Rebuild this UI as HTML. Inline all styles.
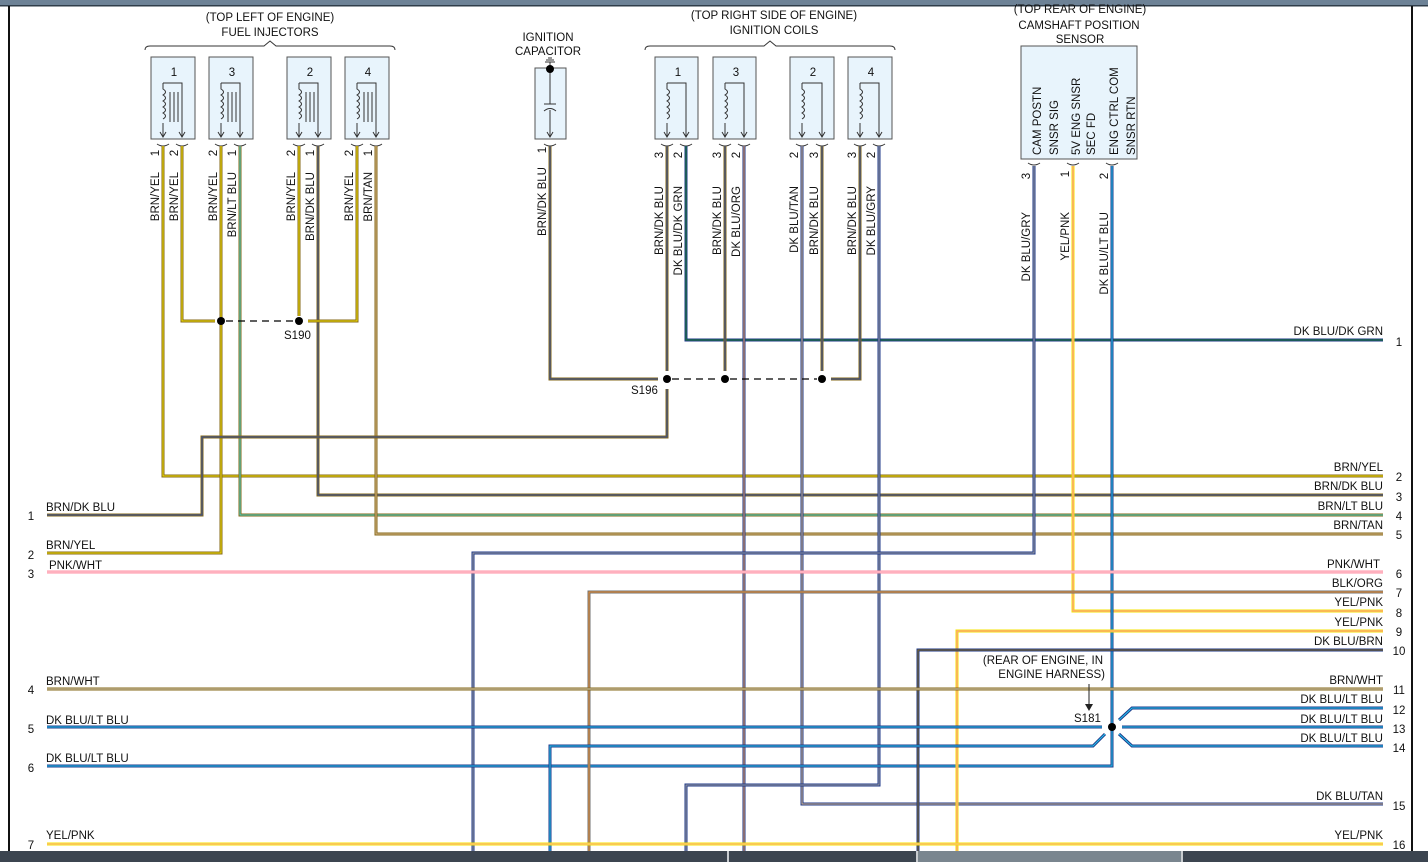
<!DOCTYPE html>
<html><head><meta charset="utf-8"><style>
html,body{margin:0;padding:0;background:#fff;}
svg{display:block;font-family:"Liberation Sans",sans-serif;}
.w{fill:none;stroke-width:3;stroke-linejoin:miter}
.s{fill:none;stroke-width:1}
text{font-size:11.5px;fill:#111}
.bx{fill:#e8f4fc;stroke:#555;stroke-width:1}
.sym{fill:none;stroke:#333;stroke-width:1}
</style></head><body>
<svg width="1428" height="862" viewBox="0 0 1428 862" xmlns="http://www.w3.org/2000/svg">
<rect x="0" y="0" width="1428" height="6" fill="#6d8296"/>
<rect x="0" y="5" width="1428" height="1.5" fill="#2f3d4a"/>
<rect x="8" y="6" width="2" height="846" fill="#111"/>
<rect x="1411" y="6" width="2" height="846" fill="#111"/>

<!-- headings -->
<g text-anchor="middle">
<text x="270" y="21">(TOP LEFT OF ENGINE)</text>
<text x="270" y="36">FUEL INJECTORS</text>
<text x="548" y="41">IGNITION</text>
<text x="548" y="55">CAPACITOR</text>
<text x="774" y="19">(TOP RIGHT SIDE OF ENGINE)</text>
<text x="774" y="34">IGNITION COILS</text>
<text x="1080" y="13">(TOP REAR OF ENGINE)</text>
<text x="1079" y="29">CAMSHAFT POSITION</text>
<text x="1080" y="43">SENSOR</text>
</g>
<path class="sym" d="M145,50 Q145,46 150,46 L264,46 L270,41 L276,46 L390,46 Q395,46 395,50"/>
<path class="sym" d="M645,50 Q645,46 650,46 L764,46 L770,41 L776,46 L890,46 Q895,46 895,50"/>

<!-- injector boxes -->
<g>
<rect class="bx" x="151" y="57" width="44" height="82"/>
<rect class="bx" x="209" y="57" width="44" height="82"/>
<rect class="bx" x="287" y="57" width="44" height="82"/>
<rect class="bx" x="345" y="57" width="44" height="82"/>
<rect class="bx" x="535" y="68" width="31" height="71"/>
<rect class="bx" x="655" y="57" width="43" height="82"/>
<rect class="bx" x="713" y="57" width="43" height="82"/>
<rect class="bx" x="790" y="57" width="44" height="82"/>
<rect class="bx" x="848" y="57" width="44" height="82"/>
<rect class="bx" x="1021" y="46" width="116" height="113"/>
</g>
<g text-anchor="middle">
<text x="174" y="76">1</text><text x="232" y="76">3</text><text x="310" y="76">2</text><text x="368" y="76">4</text>
<text x="678" y="76">1</text><text x="736" y="76">3</text><text x="813" y="76">2</text><text x="871" y="76">4</text>
</g>
<!-- injector symbols -->
<g class="sym">
<path d="M163,136 L163,123 M163,83 L182,83 L182,136 M163,83 L163,89 q5,3 0,6 q5,3 0,6 q5,3 0,6 q5,3 0,6 q5,3 0,6 M170,92 L170,122 M174,92 L174,122 M178,92 L178,122 M160,132 L163,137 L166,132 M179,132 L182,137 L185,132"/>
<path d="M221,136 L221,123 M221,83 L240,83 L240,136 M221,83 L221,89 q5,3 0,6 q5,3 0,6 q5,3 0,6 q5,3 0,6 q5,3 0,6 M228,92 L228,122 M232,92 L232,122 M236,92 L236,122 M218,132 L221,137 L224,132 M237,132 L240,137 L243,132"/>
<path d="M299,136 L299,123 M299,83 L318,83 L318,136 M299,83 L299,89 q5,3 0,6 q5,3 0,6 q5,3 0,6 q5,3 0,6 q5,3 0,6 M306,92 L306,122 M310,92 L310,122 M314,92 L314,122 M296,132 L299,137 L302,132 M315,132 L318,137 L321,132"/>
<path d="M357,136 L357,123 M357,83 L376,83 L376,136 M357,83 L357,89 q5,3 0,6 q5,3 0,6 q5,3 0,6 q5,3 0,6 q5,3 0,6 M364,92 L364,122 M368,92 L368,122 M372,92 L372,122 M354,132 L357,137 L360,132 M373,132 L376,137 L379,132"/>
<path d="M667,136 L667,123 M667,83 L686,83 L686,136 M667,83 L667,89 q5,3 0,6 q5,3 0,6 q5,3 0,6 q5,3 0,6 q5,3 0,6 M664,132 L667,137 L670,132 M683,132 L686,137 L689,132"/>
<path d="M725,136 L725,123 M725,83 L744,83 L744,136 M725,83 L725,89 q5,3 0,6 q5,3 0,6 q5,3 0,6 q5,3 0,6 q5,3 0,6 M722,132 L725,137 L728,132 M741,132 L744,137 L747,132"/>
<path d="M802,136 L802,123 M802,83 L822,83 L822,136 M802,83 L802,89 q5,3 0,6 q5,3 0,6 q5,3 0,6 q5,3 0,6 q5,3 0,6 M799,132 L802,137 L805,132 M819,132 L822,137 L825,132"/>
<path d="M860,136 L860,123 M860,83 L879,83 L879,136 M860,83 L860,89 q5,3 0,6 q5,3 0,6 q5,3 0,6 q5,3 0,6 q5,3 0,6 M857,132 L860,137 L863,132 M876,132 L879,137 L882,132"/>
<!-- capacitor -->
<path d="M550,62 L550,104 M550,110 L550,137 M544,104 L556,104 M544,111 q6,-5 12,0 M547,132 L550,137 L553,132 M545,62 L555,62 M546,60 L554,60 M548,58 L552,58"/>
<!-- pin cups -->
<path d="M157,144 q6,4 12,0 M176,144 q6,4 12,0 M215,144 q6,4 12,0 M234,144 q6,4 12,0 M293,144 q6,4 12,0 M312,144 q6,4 12,0 M351,144 q6,4 12,0 M370,144 q6,4 12,0 M544,144 q6,4 12,0 M661,144 q6,4 12,0 M680,144 q6,4 12,0 M719,144 q6,4 12,0 M738,144 q6,4 12,0 M796,144 q6,4 12,0 M816,144 q6,4 12,0 M854,144 q6,4 12,0 M873,144 q6,4 12,0 M1028,163 q6,4 12,0 M1067,163 q6,4 12,0 M1106,163 q6,4 12,0"/>
</g>
<circle cx="550" cy="69" r="4" fill="#000"/>

<!-- wires -->
<g>
<polyline class="w" stroke="#85681a" points="163,146 163,476 1383,476"/><polyline class="s" stroke="#f5e300" points="163,146 163,476 1383,476"/>
<polyline class="w" stroke="#85681a" points="182,146 182,321 215,321"/><polyline class="s" stroke="#f5e300" points="182,146 182,321 215,321"/>
<polyline class="w" stroke="#85681a" points="221,146 221,553 47,553"/><polyline class="s" stroke="#f5e300" points="221,146 221,553 47,553"/>
<polyline class="w" stroke="#85681a" points="240,146 240,515 1383,515"/><polyline class="s" stroke="#3fd8d0" points="240,146 240,515 1383,515"/>
<polyline class="w" stroke="#85681a" points="299,146 299,316"/><polyline class="s" stroke="#f5e300" points="299,146 299,316"/>
<polyline class="w" stroke="#85681a" points="318,146 318,495 1383,495"/><polyline class="s" stroke="#2a4aa0" points="318,146 318,495 1383,495"/>
<polyline class="w" stroke="#85681a" points="357,146 357,321 308,321"/><polyline class="s" stroke="#f5e300" points="357,146 357,321 308,321"/>
<polyline class="w" stroke="#85681a" points="376,146 376,534 1383,534"/><polyline class="s" stroke="#d8b88a" points="376,146 376,534 1383,534"/>
<polyline class="w" stroke="#85681a" points="550,146 550,379 658,379"/><polyline class="s" stroke="#2a4aa0" points="550,146 550,379 658,379"/>
<polyline class="w" stroke="#85681a" points="667,146 667,371"/><polyline class="s" stroke="#2a4aa0" points="667,146 667,371"/>
<polyline class="w" stroke="#85681a" points="667,389 667,437 202,437 202,515 47,515"/><polyline class="s" stroke="#2a4aa0" points="667,389 667,437 202,437 202,515 47,515"/>
<polyline class="w" stroke="#1f3a8a" points="686,146 686,340 1383,340"/><polyline class="s" stroke="#1a7a2a" points="686,146 686,340 1383,340"/>
<polyline class="w" stroke="#85681a" points="725,146 725,371"/><polyline class="s" stroke="#2a4aa0" points="725,146 725,371"/>
<polyline class="w" stroke="#1f3a8a" points="744,146 744,851"/><polyline class="s" stroke="#f0a060" points="744,146 744,851"/>
<polyline class="w" stroke="#1f3a8a" points="802,146 802,804 1383,804"/><polyline class="s" stroke="#d8b88a" points="802,146 802,804 1383,804"/>
<polyline class="w" stroke="#85681a" points="822,146 822,371"/><polyline class="s" stroke="#2a4aa0" points="822,146 822,371"/>
<polyline class="w" stroke="#85681a" points="860,146 860,379 831,379"/><polyline class="s" stroke="#2a4aa0" points="860,146 860,379 831,379"/>
<polyline class="w" stroke="#1f3a8a" points="879,146 879,785 686,785 686,851"/><polyline class="s" stroke="#a0a0a0" points="879,146 879,785 686,785 686,851"/>
<polyline class="w" stroke="#1f3a8a" points="1034,166 1034,553 473,553 473,851"/><polyline class="s" stroke="#a0a0a0" points="1034,166 1034,553 473,553 473,851"/>
<polyline class="w" stroke="#f5e300" points="1073,166 1073,611 1383,611"/><polyline class="s" stroke="#ff8fa3" points="1073,166 1073,611 1383,611"/>
<polyline class="w" stroke="#1f3a8a" points="1112,166 1112,766 47,766"/><polyline class="s" stroke="#22c8f0" points="1112,166 1112,766 47,766"/>
<polyline class="w" stroke="#ff8fa3" points="47,572 1383,572"/><polyline class="s" stroke="#ffd0d8" points="47,572 1383,572"/>
<polyline class="w" stroke="#707070" points="589,851 589,592 1383,592"/><polyline class="s" stroke="#f09030" points="589,851 589,592 1383,592"/>
<polyline class="w" stroke="#f5e300" points="957,851 957,631 1383,631"/><polyline class="s" stroke="#ff8fa3" points="957,851 957,631 1383,631"/>
<polyline class="w" stroke="#1f3a8a" points="918,851 918,650 1383,650"/><polyline class="s" stroke="#85681a" points="918,851 918,650 1383,650"/>
<polyline class="w" stroke="#85681a" points="47,689 1383,689"/><polyline class="s" stroke="#d8d0c0" points="47,689 1383,689"/>
<polyline class="w" stroke="#1f3a8a" points="47,727 1102,727"/><polyline class="s" stroke="#22c8f0" points="47,727 1102,727"/>
<polyline class="w" stroke="#1f3a8a" points="1122,727 1383,727"/><polyline class="s" stroke="#22c8f0" points="1122,727 1383,727"/>
<polyline class="w" stroke="#1f3a8a" points="1119,720 1132,708 1383,708"/><polyline class="s" stroke="#22c8f0" points="1119,720 1132,708 1383,708"/>
<polyline class="w" stroke="#1f3a8a" points="1119,734 1132,746 1383,746"/><polyline class="s" stroke="#22c8f0" points="1119,734 1132,746 1383,746"/>
<polyline class="w" stroke="#1f3a8a" points="1105,734 1093,746 550,746 550,851"/><polyline class="s" stroke="#22c8f0" points="1105,734 1093,746 550,746 550,851"/>
<polyline class="w" stroke="#f5e300" points="47,844 1383,844"/><polyline class="s" stroke="#ffb0a0" points="47,844 1383,844"/>
</g>
<!-- splices -->
<path d="M226,321 L294,321 M672,379 L720,379 M730,379 L817,379" stroke="#000" stroke-width="1.2" stroke-dasharray="7,5" fill="none"/>
<g fill="#000">
<circle cx="221" cy="321" r="4"/><circle cx="299" cy="321" r="4"/>
<circle cx="667" cy="379" r="4"/><circle cx="725" cy="379" r="4"/><circle cx="822" cy="379" r="4"/>
<circle cx="1112" cy="727" r="4"/>
</g>
<text x="284" y="339">S190</text>
<text x="631" y="394">S196</text>
<text x="1074" y="722">S181</text>
<text x="1103" y="664" text-anchor="end">(REAR OF ENGINE, IN</text>
<text x="1105" y="678" text-anchor="end">ENGINE HARNESS)</text>
<path d="M1089,684 L1089,705" stroke="#222" stroke-width="1"/>
<path d="M1085,704 L1093,704 L1089,711 Z" fill="#222"/>

<!-- vertical labels -->
<g text-anchor="end">
<text transform="translate(159,172) rotate(-90)">BRN/YEL</text>
<text transform="translate(178,172) rotate(-90)">BRN/YEL</text>
<text transform="translate(217,172) rotate(-90)">BRN/YEL</text>
<text transform="translate(236,172) rotate(-90)">BRN/LT BLU</text>
<text transform="translate(295,172) rotate(-90)">BRN/YEL</text>
<text transform="translate(314,172) rotate(-90)">BRN/DK BLU</text>
<text transform="translate(353,172) rotate(-90)">BRN/YEL</text>
<text transform="translate(372,172) rotate(-90)">BRN/TAN</text>
<text transform="translate(546,167) rotate(-90)">BRN/DK BLU</text>
<text transform="translate(663,186) rotate(-90)">BRN/DK BLU</text>
<text transform="translate(682,186) rotate(-90)">DK BLU/DK GRN</text>
<text transform="translate(721,186) rotate(-90)">BRN/DK BLU</text>
<text transform="translate(740,186) rotate(-90)">DK BLU/ORG</text>
<text transform="translate(798,186) rotate(-90)">DK BLU/TAN</text>
<text transform="translate(818,186) rotate(-90)">BRN/DK BLU</text>
<text transform="translate(856,186) rotate(-90)">BRN/DK BLU</text>
<text transform="translate(875,186) rotate(-90)">DK BLU/GRY</text>
<text transform="translate(1030,212) rotate(-90)">DK BLU/GRY</text>
<text transform="translate(1069,212) rotate(-90)">YEL/PNK</text>
<text transform="translate(1108,212) rotate(-90)">DK BLU/LT BLU</text>
</g>
<g text-anchor="start">
<text transform="translate(1041,155) rotate(-90)">CAM POSTN</text>
<text transform="translate(1058,155) rotate(-90)">SNSR SIG</text>
<text transform="translate(1080,155) rotate(-90)">5V ENG SNSR</text>
<text transform="translate(1095,155) rotate(-90)">SEC FD</text>
<text transform="translate(1118,155) rotate(-90)">ENG CTRL COM</text>
<text transform="translate(1135,155) rotate(-90)">SNSR RTN</text>
</g>
<!-- pin numbers -->
<g text-anchor="middle">
<text transform="translate(159,153) rotate(-90)">1</text>
<text transform="translate(178,153) rotate(-90)">2</text>
<text transform="translate(217,153) rotate(-90)">2</text>
<text transform="translate(236,153) rotate(-90)">1</text>
<text transform="translate(295,153) rotate(-90)">2</text>
<text transform="translate(314,153) rotate(-90)">1</text>
<text transform="translate(353,153) rotate(-90)">2</text>
<text transform="translate(372,153) rotate(-90)">1</text>
<text transform="translate(546,150) rotate(-90)">1</text>
<text transform="translate(663,155) rotate(-90)">3</text>
<text transform="translate(682,155) rotate(-90)">2</text>
<text transform="translate(721,155) rotate(-90)">3</text>
<text transform="translate(740,155) rotate(-90)">2</text>
<text transform="translate(798,155) rotate(-90)">2</text>
<text transform="translate(818,155) rotate(-90)">3</text>
<text transform="translate(856,155) rotate(-90)">3</text>
<text transform="translate(875,155) rotate(-90)">2</text>
<text transform="translate(1030,176) rotate(-90)">3</text>
<text transform="translate(1069,174) rotate(-90)">1</text>
<text transform="translate(1108,176) rotate(-90)">2</text>
</g>

<!-- right labels -->
<g text-anchor="end">
<text x="1383" y="335">DK BLU/DK GRN</text>
<text x="1383" y="471">BRN/YEL</text>
<text x="1383" y="490">BRN/DK BLU</text>
<text x="1383" y="510">BRN/LT BLU</text>
<text x="1383" y="529">BRN/TAN</text>
<text x="1380" y="568">PNK/WHT</text>
<text x="1383" y="587">BLK/ORG</text>
<text x="1383" y="606">YEL/PNK</text>
<text x="1383" y="626">YEL/PNK</text>
<text x="1383" y="645">DK BLU/BRN</text>
<text x="1383" y="684">BRN/WHT</text>
<text x="1383" y="703">DK BLU/LT BLU</text>
<text x="1383" y="723">DK BLU/LT BLU</text>
<text x="1383" y="742">DK BLU/LT BLU</text>
<text x="1383" y="800">DK BLU/TAN</text>
<text x="1383" y="839">YEL/PNK</text>
</g>
<g text-anchor="middle">
<text x="1399" y="346">1</text><text x="1399" y="481">2</text><text x="1399" y="501">3</text><text x="1399" y="520">4</text>
<text x="1399" y="539">5</text><text x="1399" y="578">6</text><text x="1399" y="597">7</text><text x="1399" y="617">8</text>
<text x="1399" y="636">9</text><text x="1399" y="655">10</text><text x="1399" y="694">11</text><text x="1399" y="714">12</text>
<text x="1399" y="733">13</text><text x="1399" y="752">14</text><text x="1399" y="810">15</text><text x="1399" y="849">16</text>
<text x="31" y="520">1</text><text x="31" y="559">2</text><text x="31" y="578">3</text><text x="31" y="694">4</text>
<text x="31" y="733">5</text><text x="31" y="772">6</text><text x="31" y="849">7</text>
</g>
<g>
<text x="46" y="511">BRN/DK BLU</text>
<text x="46" y="549">BRN/YEL</text>
<text x="49" y="569">PNK/WHT</text>
<text x="46" y="685">BRN/WHT</text>
<text x="46" y="724">DK BLU/LT BLU</text>
<text x="46" y="762">DK BLU/LT BLU</text>
<text x="46" y="839">YEL/PNK</text>
</g>

<!-- bottom bar -->
<rect x="0" y="851" width="1428" height="11" fill="#3c4550"/>
<rect x="917" y="851" width="265" height="11" fill="#7a868f"/>
<rect x="727" y="851" width="2" height="11" fill="#c8ccd0"/>
<rect x="916" y="851" width="2" height="11" fill="#c8ccd0"/>
<rect x="1181" y="851" width="2" height="11" fill="#c8ccd0"/>
</svg>
</body></html>
